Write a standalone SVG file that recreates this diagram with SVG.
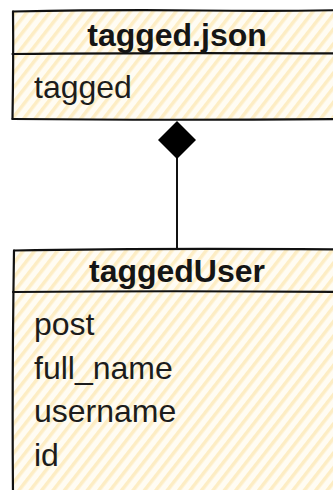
<svg xmlns="http://www.w3.org/2000/svg" width="333" height="490" viewBox="0 0 333 490">
  <style>
    .outline { fill: none; stroke: #111; stroke-width: 2.2; stroke-linecap: round; stroke-linejoin: round; }
    .hatch { fill: url(#sketchFill); }
    .title { font-family: "Liberation Sans", Arial, sans-serif; font-size: 32px; font-weight: bold; fill: #151515; text-anchor: middle; }
    .field { font-family: "Liberation Sans", Arial, sans-serif; font-size: 32px; fill: #1c1c1c; }
    .edge { fill: none; stroke: #111; stroke-width: 2; }
  </style>
  <defs>
    <!-- hand-drawn hachure fill: pale yellow strokes on cream -->
    <pattern id="sketchFill" patternUnits="userSpaceOnUse" width="9" height="9" patternTransform="rotate(38)">
      <rect width="9" height="9" fill="#fffcf3"/>
      <rect x="0" y="0" width="3.5" height="9" fill="#fdedc4"/>
    </pattern>
  </defs>

  <g id="connectors">
    <line class="edge" x1="177" y1="158" x2="177" y2="249"/>
    <polygon points="177,121 196,140 177,159 158,140" fill="#000"/>
  </g>

  <g id="node-tagged-json">
    <path class="hatch" d="M13,11 L345,10 L345,119 L13,119 Z"/>
    <path class="outline" d="M13,11.5 Q120,9.5 200,10.5 T345,10"/>
    <path class="outline" d="M13,11.5 Q13.5,60 12.5,119"/>
    <path class="outline" d="M12.5,54 Q150,52.5 345,53.5"/>
    <path class="outline" d="M12.5,119 Q170,120.5 345,119"/>
    <text class="title" x="177" y="46">tagged.json</text>
    <text class="field" x="34" y="98">tagged</text>
  </g>

  <g id="node-tagged-user">
    <path class="hatch" d="M14,250 L345,249 L345,495 L13,495 Z"/>
    <path class="outline" d="M14,250.5 Q150,248 345,249.5"/>
    <path class="outline" d="M14,250.5 Q12,380 13,495"/>
    <path class="outline" d="M13,292 Q170,290.5 345,292"/>
    <text class="title" x="177" y="282">taggedUser</text>
    <text class="field" x="34" y="335">post</text>
    <text class="field" x="34" y="378.5">full_name</text>
    <text class="field" x="34" y="422">username</text>
    <text class="field" x="34" y="465.5">id</text>
  </g>
</svg>
